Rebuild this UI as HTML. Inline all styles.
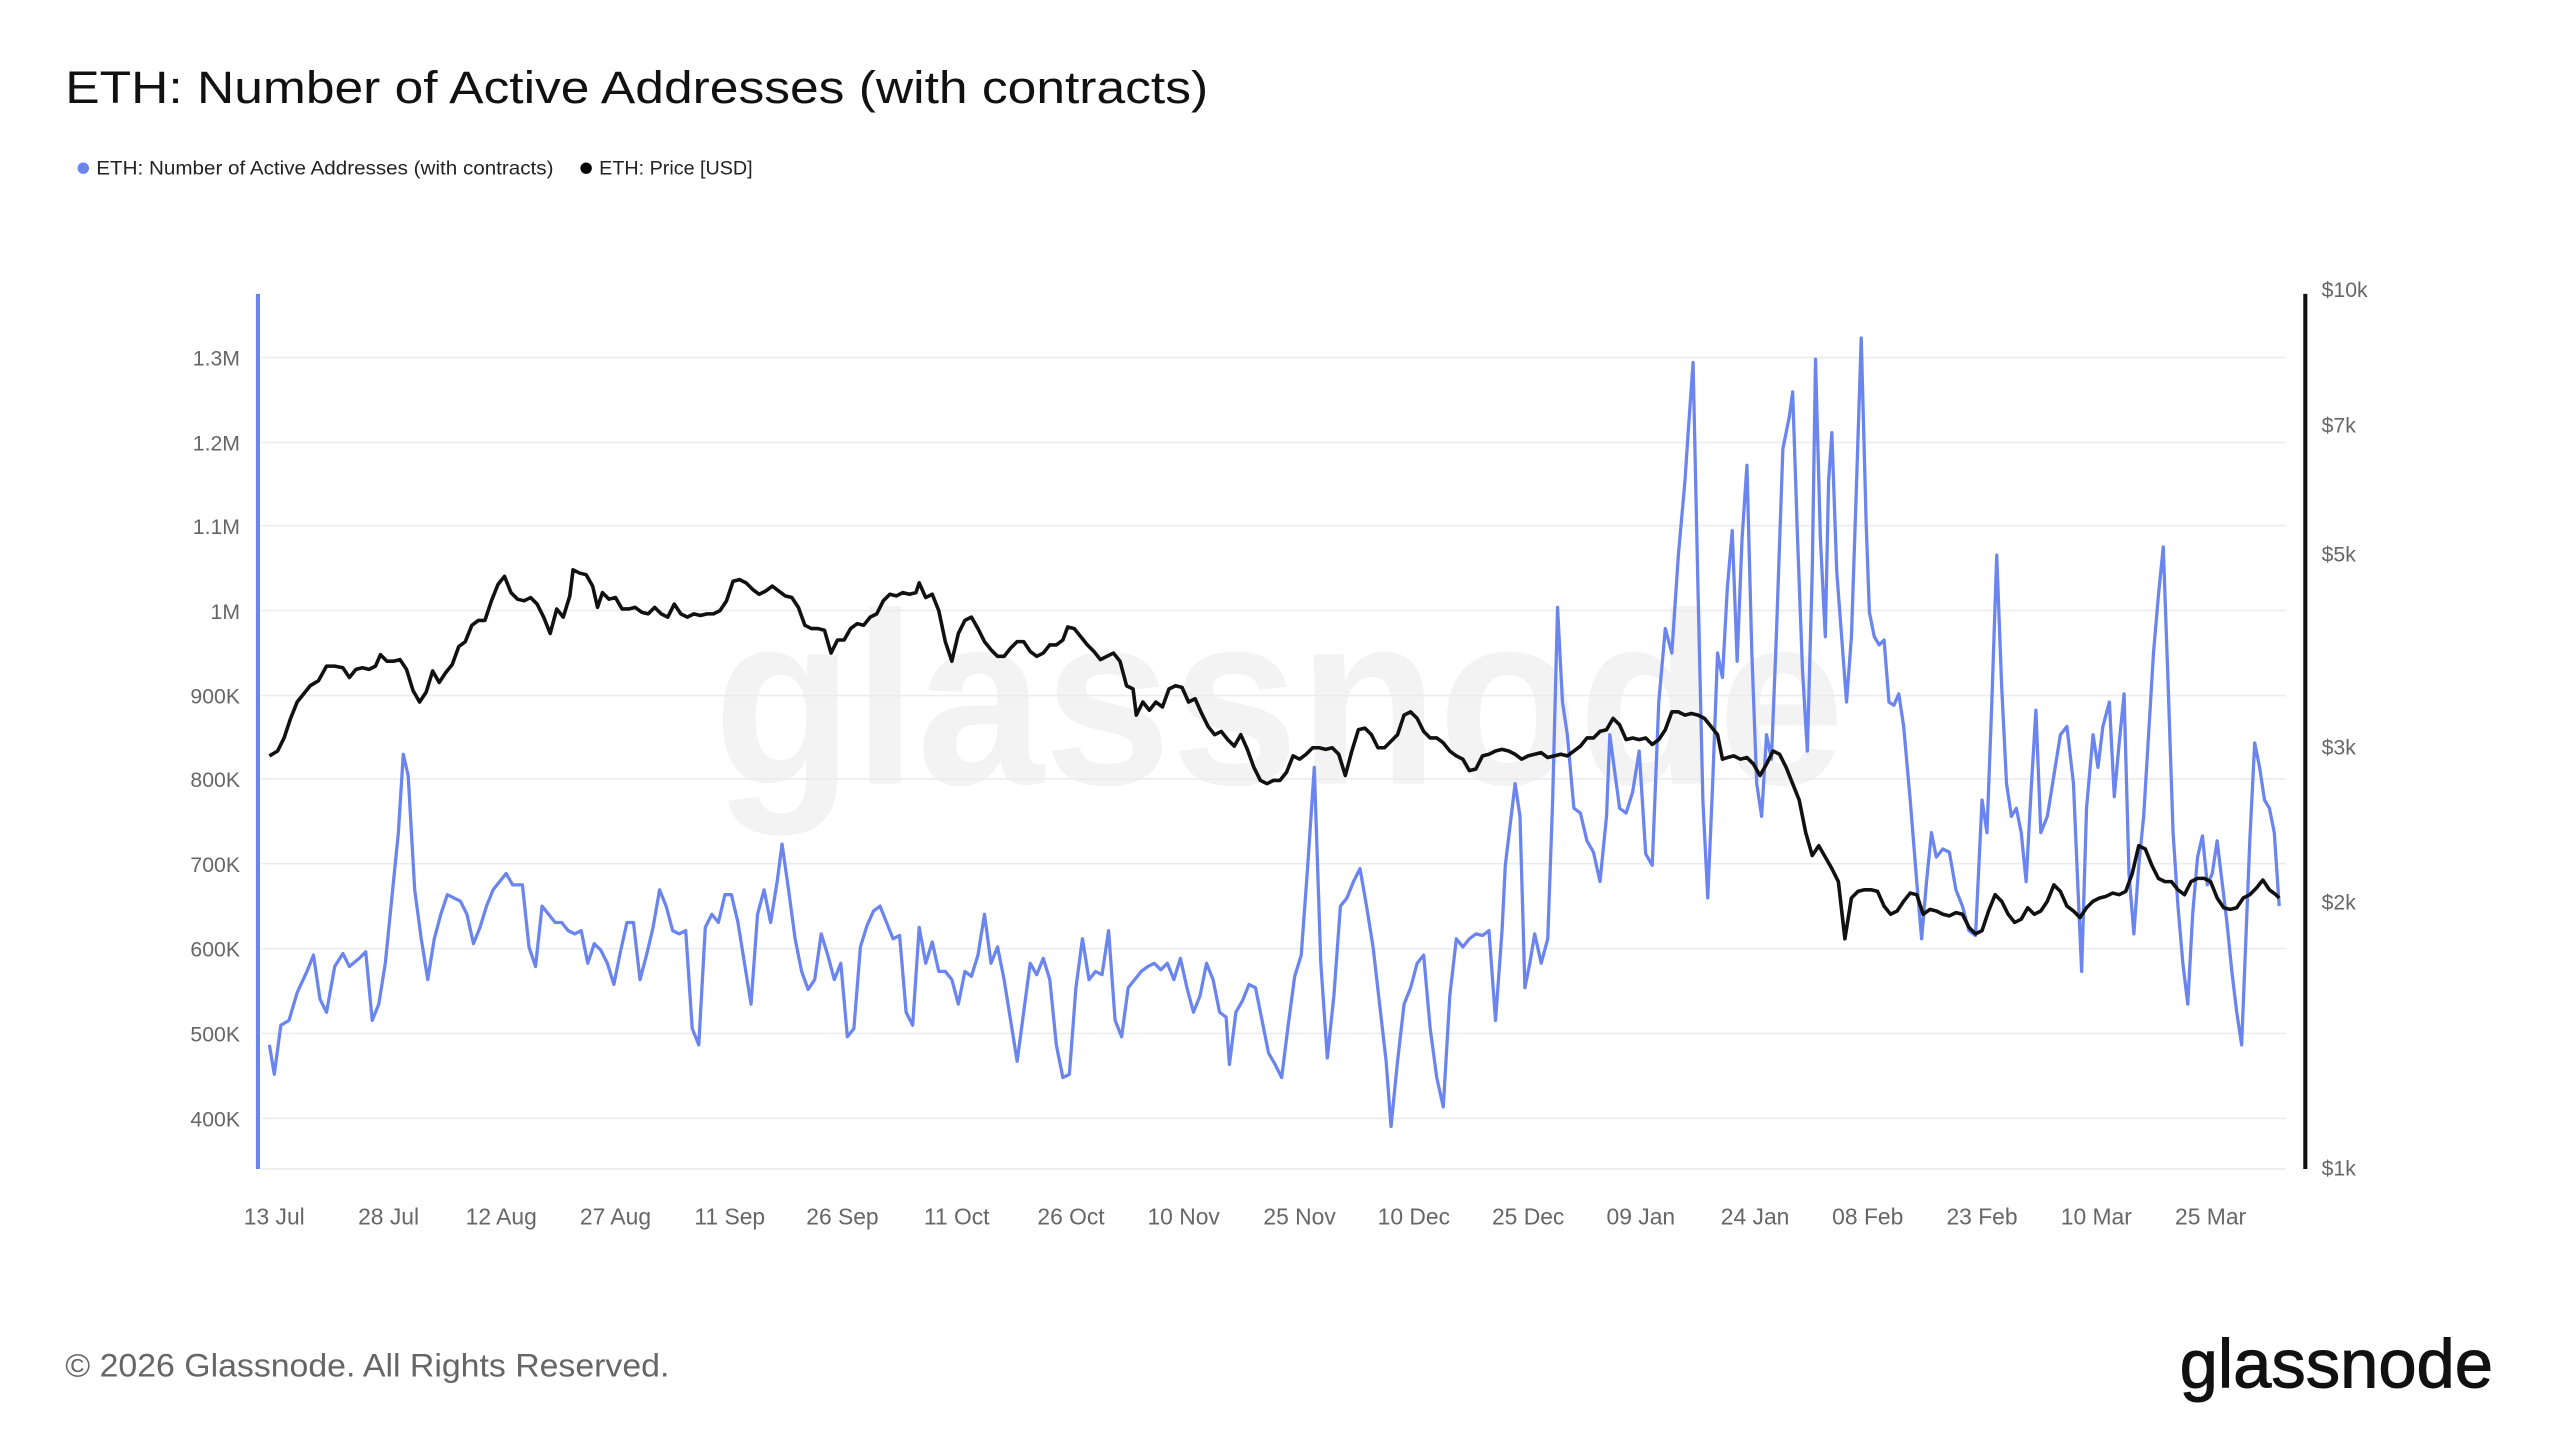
<!DOCTYPE html>
<html><head><meta charset="utf-8"><style>
html,body{margin:0;padding:0;background:#fff;}
svg{display:block;}
text{font-family:"Liberation Sans",sans-serif;}
</style></head><body>
<svg width="2560" height="1440" viewBox="0 0 1568 882" xmlns="http://www.w3.org/2000/svg">
<rect width="1568" height="882" fill="#fff"/>
<text x="40" y="63" font-size="28" fill="#111" textLength="700" lengthAdjust="spacingAndGlyphs">ETH: Number of Active Addresses (with contracts)</text>
<circle cx="51" cy="103" r="3.5" fill="#6a84f0"/>
<text x="59" y="107" font-size="12" fill="#222" textLength="280" lengthAdjust="spacingAndGlyphs">ETH: Number of Active Addresses (with contracts)</text>
<circle cx="359" cy="103" r="3.5" fill="#000"/>
<text x="367" y="107" font-size="12" fill="#222" textLength="94" lengthAdjust="spacingAndGlyphs">ETH: Price [USD]</text>
<text x="437" y="480" font-size="150" font-weight="bold" fill="#f3f3f3" textLength="693" lengthAdjust="spacingAndGlyphs">glassnode</text>
<g stroke="#ececec" stroke-width="1">
<line x1="160" x2="1400" y1="219" y2="219"/><line x1="160" x2="1400" y1="271" y2="271"/>
<line x1="160" x2="1400" y1="322" y2="322"/><line x1="160" x2="1400" y1="374" y2="374"/>
<line x1="160" x2="1400" y1="426" y2="426"/><line x1="160" x2="1400" y1="477" y2="477"/>
<line x1="160" x2="1400" y1="529" y2="529"/><line x1="160" x2="1400" y1="581" y2="581"/>
<line x1="160" x2="1400" y1="633" y2="633"/><line x1="160" x2="1400" y1="685" y2="685"/>
<line x1="160" x2="1400" y1="716" y2="716"/>
</g>
<line x1="158" x2="158" y1="180" y2="716" stroke="#6a84f0" stroke-width="2.5"/>
<line x1="1412" x2="1412" y1="180" y2="716" stroke="#111" stroke-width="2.5"/>
<g font-size="13" fill="#666" text-anchor="end">
<text x="147" y="224">1.3M</text><text x="147" y="276">1.2M</text><text x="147" y="327">1.1M</text>
<text x="147" y="379">1M</text><text x="147" y="431">900K</text><text x="147" y="482">800K</text>
<text x="147" y="534">700K</text><text x="147" y="586">600K</text><text x="147" y="638">500K</text>
<text x="147" y="690">400K</text>
</g>
<g font-size="13" fill="#666">
<text x="1422" y="182">$10k</text><text x="1422" y="265">$7k</text><text x="1422" y="344">$5k</text>
<text x="1422" y="462">$3k</text><text x="1422" y="557">$2k</text><text x="1422" y="720">$1k</text>
</g>
<g font-size="14" fill="#666" text-anchor="middle">
<text x="168" y="750">13 Jul</text><text x="238" y="750">28 Jul</text><text x="307" y="750">12 Aug</text>
<text x="377" y="750">27 Aug</text><text x="447" y="750">11 Sep</text><text x="516" y="750">26 Sep</text>
<text x="586" y="750">11 Oct</text><text x="656" y="750">26 Oct</text><text x="725" y="750">10 Nov</text>
<text x="796" y="750">25 Nov</text><text x="866" y="750">10 Dec</text><text x="936" y="750">25 Dec</text>
<text x="1005" y="750">09 Jan</text><text x="1075" y="750">24 Jan</text><text x="1144" y="750">08 Feb</text>
<text x="1214" y="750">23 Feb</text><text x="1284" y="750">10 Mar</text><text x="1354" y="750">25 Mar</text>
</g>
<polyline fill="none" stroke="#6a84f0" stroke-width="2" stroke-linejoin="round" points="165,640 168,658 172,628 177,625 182,608 188,595 192,585 196,612 200,620 205,592 210,584 214,592 220,587 224,583 228,625 232,615 236,590 240,550 244,510 247,462 250,475 254,545 258,575 262,600 266,575 270,560 274,548 278,550 282,552 286,560 290,578 294,568 298,555 302,545 306,540 310,535 314,542 320,542 324,580 328,592 332,555 336,560 340,565 344,565 348,570 352,572 356,570 360,590 364,578 368,582 372,590 376,603 380,583 384,565 388,565 392,600 396,585 400,568 404,545 408,555 412,570 416,572 420,570 424,630 428,640 432,568 436,560 440,565 444,548 448,548 452,565 456,590 460,615 464,560 468,545 472,565 476,540 479,517 483,545 487,575 491,595 495,606 499,600 503,572 507,585 511,600 515,590 519,635 523,630 527,580 531,567 535,558 539,555 543,565 547,575 551,573 555,620 559,628 563,568 567,590 571,577 575,595 579,595 583,600 587,615 591,595 595,598 599,585 603,560 607,590 611,580 615,600 619,625 623,650 627,620 631,590 635,597 639,587 643,600 647,640 651,660 655,658 659,605 663,575 667,600 671,595 675,597 679,570 683,625 687,635 691,605 695,600 699,595 703,592 707,590 711,594 715,590 719,600 723,587 727,605 731,620 735,610 739,590 743,600 747,620 751,623 753,652 757,620 761,613 765,603 769,605 773,625 777,645 781,652 785,660 789,628 793,598 797,585 801,530 805,470 809,590 813,648 817,610 821,555 825,550 829,540 833,532 837,555 841,580 845,615 849,650 852,690 856,650 860,615 864,605 868,590 872,585 876,630 880,660 884,678 888,610 892,575 896,580 900,575 904,572 908,573 912,570 916,625 920,570 922,530 925,505 928,480 931,500 934,605 937,590 940,572 944,590 948,575 951,490 954,372 957,430 960,450 964,495 968,498 972,515 976,522 980,540 984,500 986,450 988,465 992,495 996,498 1000,485 1004,460 1008,523 1012,530 1016,430 1020,385 1024,400 1028,340 1032,295 1034,265 1037,222 1040,360 1043,490 1046,550 1049,480 1052,400 1055,415 1058,360 1061,325 1064,405 1067,330 1070,285 1073,400 1076,480 1079,500 1082,450 1085,465 1088,390 1092,275 1096,255 1098,240 1101,330 1104,410 1107,460 1110,350 1112,220 1115,330 1118,390 1120,295 1122,265 1125,350 1128,390 1131,430 1134,390 1137,300 1140,207 1143,320 1145,375 1148,390 1151,395 1154,392 1157,430 1160,432 1163,425 1166,445 1170,490 1174,540 1177,575 1180,540 1183,510 1186,525 1190,520 1194,522 1198,545 1202,555 1206,570 1210,573 1214,490 1217,510 1220,430 1223,340 1226,420 1229,480 1232,500 1235,495 1238,510 1241,540 1244,485 1247,435 1250,510 1254,500 1258,475 1262,450 1266,445 1270,480 1273,550 1275,595 1278,495 1282,450 1285,470 1288,445 1292,430 1295,488 1298,455 1301,425 1304,535 1307,572 1310,530 1313,500 1316,450 1319,400 1322,365 1325,335 1328,420 1331,510 1334,555 1337,590 1340,615 1343,560 1346,525 1349,512 1352,542 1355,535 1358,515 1361,540 1364,565 1367,595 1370,620 1373,640 1375,590 1378,515 1381,455 1384,470 1387,490 1390,495 1393,510 1396,555"/>
<polyline fill="none" stroke="#111" stroke-width="2.2" stroke-linejoin="round" points="165,463 170,460 174,452 178,440 182,430 186,425 190,420 195,417 200,408 205,408 210,409 214,415 218,410 222,409 226,410 230,408 233,401 237,405 241,405 245,404 249,410 253,423 257,430 261,424 265,411 269,418 273,412 277,407 281,396 285,393 289,383 293,380 297,380 301,368 305,358 309,353 313,363 317,367 321,368 325,366 329,370 333,378 337,388 341,373 345,378 349,365 351,349 355,351 359,352 363,359 366,372 369,363 373,367 377,366 381,373 385,373 389,372 393,375 397,376 401,372 405,376 409,378 413,370 417,376 421,378 425,376 429,377 433,376 437,376 441,374 445,368 449,356 453,355 457,357 461,361 465,364 469,362 473,359 477,362 481,365 485,366 489,372 493,383 497,385 501,385 505,386 509,400 513,392 517,392 521,385 525,382 529,383 533,378 537,376 541,368 545,364 549,365 553,363 557,364 561,363 563,357 567,366 571,364 575,374 579,393 583,405 587,388 591,380 595,378 599,385 603,393 607,398 611,402 615,402 619,397 623,393 627,393 631,399 635,402 639,400 643,395 647,395 651,392 654,384 658,385 662,390 666,395 670,399 674,404 678,402 682,400 686,405 690,420 694,422 696,438 700,430 704,435 708,430 712,433 716,422 720,420 724,421 728,430 732,428 736,437 740,445 744,450 748,448 752,453 756,457 760,450 764,459 768,470 772,478 776,480 780,478 784,478 788,473 792,463 796,465 800,462 804,458 808,458 812,459 816,458 820,462 824,475 828,460 832,447 836,446 840,450 844,458 848,458 852,454 856,450 860,438 864,436 868,440 872,448 876,452 880,452 884,455 888,460 892,463 896,465 900,472 904,471 908,463 912,462 916,460 920,459 924,460 928,462 932,465 936,463 940,462 944,461 948,464 952,463 956,462 960,463 964,460 968,457 972,452 976,452 980,448 984,447 988,440 992,444 996,453 1000,452 1004,453 1008,452 1012,456 1016,453 1020,447 1024,436 1028,436 1032,438 1036,437 1040,438 1044,440 1048,445 1052,450 1055,465 1058,464 1062,463 1066,465 1070,464 1074,468 1078,475 1082,468 1086,460 1090,462 1094,470 1098,480 1102,490 1106,510 1110,524 1114,518 1118,525 1122,532 1126,540 1130,575 1134,550 1138,546 1142,545 1146,545 1150,546 1154,555 1158,560 1162,558 1166,552 1170,547 1174,548 1178,560 1182,557 1186,558 1190,560 1194,561 1198,559 1202,560 1206,568 1210,572 1214,570 1218,558 1222,548 1226,552 1230,560 1234,565 1238,563 1242,556 1246,560 1250,558 1254,552 1258,542 1262,546 1266,555 1270,558 1274,562 1278,556 1282,552 1286,550 1290,549 1294,547 1298,548 1302,546 1306,535 1310,518 1314,520 1318,530 1322,538 1326,540 1330,540 1334,545 1338,548 1342,540 1346,538 1350,538 1354,540 1358,550 1362,556 1366,557 1370,556 1374,550 1378,548 1382,544 1386,539 1390,545 1394,548 1396,550"/>
<text x="40" y="843" font-size="20" fill="#666" textLength="370" lengthAdjust="spacingAndGlyphs">© 2026 Glassnode. All Rights Reserved.</text>
<text x="1335" y="850" font-size="42" fill="#111" stroke="#111" stroke-width="0.6" textLength="192" lengthAdjust="spacingAndGlyphs">glassnode</text>
</svg>
</body></html>
